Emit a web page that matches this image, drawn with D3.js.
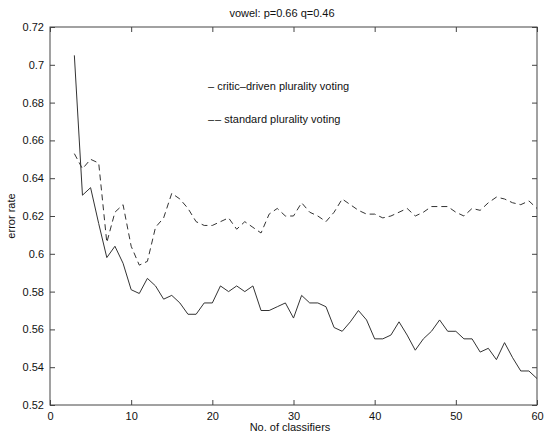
<!DOCTYPE html>
<html>
<head>
<meta charset="utf-8">
<script src="https://cdn.jsdelivr.net/npm/d3@7"></script>
<style>
  body { margin: 0; background: #fff; }
  text { font-family: "Liberation Sans", Arial, sans-serif; fill: #111; }
</style>
</head>
<body>
<script>
// classifier counts 3..60
var classifiers = [3,4,5,6,7,8,9,10,11,12,13,14,15,16,17,18,19,20,21,22,23,24,25,26,27,28,29,30,
  31,32,33,34,35,36,37,38,39,40,41,42,43,44,45,46,47,48,49,50,51,52,53,54,55,56,57,58,59,60];

var criticDriven = [0.705,0.631,0.635,0.616,0.598,0.604,0.595,0.581,0.579,0.587,0.583,0.576,0.578,0.574,
  0.568,0.568,0.574,0.574,0.583,0.580,0.583,0.580,0.583,0.570,0.570,0.572,0.574,0.566,0.578,0.574,
  0.574,0.572,0.561,0.559,0.564,0.570,0.565,0.555,0.555,0.557,0.564,0.557,0.549,0.555,0.559,0.565,
  0.559,0.559,0.555,0.555,0.548,0.550,0.544,0.553,0.545,0.538,0.538,0.534];

var standard = [0.653,0.645,0.650,0.648,0.606,0.622,0.626,0.604,0.594,0.596,0.614,0.619,0.632,0.629,
  0.624,0.617,0.615,0.615,0.617,0.619,0.613,0.617,0.614,0.611,0.621,0.624,0.620,0.620,0.627,0.622,
  0.620,0.617,0.622,0.629,0.626,0.623,0.621,0.621,0.619,0.620,0.622,0.624,0.620,0.622,0.625,0.625,
  0.625,0.622,0.620,0.624,0.623,0.627,0.630,0.629,0.627,0.626,0.628,0.624];

var xTicks = [0,10,20,30,40,50,60];
var yTicks = [0.52,0.54,0.56,0.58,0.6,0.62,0.64,0.66,0.68,0.7,0.72];

var width = 545, height = 434;
var plotLeft = 50, plotRight = 537, plotTop = 27, plotBottom = 405;

var svg = d3.select("body").append("svg")
    .attr("width", width)
    .attr("height", height);

var x = d3.scaleLinear().domain([0, 60]).range([plotLeft, plotRight]);
var y = d3.scaleLinear().domain([0.52, 0.72]).range([plotBottom, plotTop]);

// box
svg.append("rect")
    .attr("x", plotLeft).attr("y", plotTop)
    .attr("width", plotRight - plotLeft).attr("height", plotBottom - plotTop)
    .style("fill", "none")
    .style("stroke", "#444")
    .style("stroke-width", 1);

function styleAxis(g, labels) {
    g.select(".domain").remove();
    g.selectAll(".tick line").style("stroke", "#444");
    g.selectAll("text")
        .style("font-size", "11px")
        .style("font-family", "'Liberation Sans', Arial, sans-serif")
        .style("fill", "#111")
        .style("display", labels ? null : "none");
}

svg.append("g")
    .attr("transform", "translate(0," + plotBottom + ")")
    .call(d3.axisBottom(x).tickValues(xTicks).tickSize(-5).tickPadding(7).tickFormat(d3.format("d")))
    .call(styleAxis, true);

svg.append("g")
    .attr("transform", "translate(0," + plotTop + ")")
    .call(d3.axisTop(x).tickValues(xTicks).tickSize(-5))
    .call(styleAxis, false);

svg.append("g")
    .attr("transform", "translate(" + plotLeft + ",0)")
    .call(d3.axisLeft(y).tickValues(yTicks).tickSize(-5).tickPadding(6).tickFormat(function(d) { return +d.toFixed(2); }))
    .call(styleAxis, true);

svg.append("g")
    .attr("transform", "translate(" + plotRight + ",0)")
    .call(d3.axisRight(y).tickValues(yTicks).tickSize(-5))
    .call(styleAxis, false);

var line = d3.line()
    .x(function(d) { return x(d[0]); })
    .y(function(d) { return y(d[1]); });

svg.append("path")
    .datum(d3.zip(classifiers, criticDriven))
    .attr("d", line)
    .style("fill", "none")
    .style("stroke", "#333")
    .style("stroke-width", 1);

svg.append("path")
    .datum(d3.zip(classifiers, standard))
    .attr("d", line)
    .style("fill", "none")
    .style("stroke", "#333")
    .style("stroke-width", 1)
    .style("stroke-dasharray", "6,4");

// legend (plain text, as in the original)
svg.append("text")
    .attr("x", 208).attr("y", 90)
    .style("font-size", "11px")
    .text("\u2013 critic\u2013driven plurality voting");

svg.append("text")
    .attr("x", 208).attr("y", 123)
    .style("font-size", "11px")
    .text("\u2013\u200a\u2013 standard plurality voting");

svg.append("text")
    .attr("x", 282).attr("y", 17)
    .attr("text-anchor", "middle")
    .style("font-size", "11px")
    .text("vowel: p=0.66 q=0.46");

svg.append("text")
    .attr("x", 290).attr("y", 431)
    .attr("text-anchor", "middle")
    .style("font-size", "11px")
    .text("No. of classifiers");

svg.append("text")
    .attr("transform", "translate(15," + ((plotTop + plotBottom) / 2) + ") rotate(-90)")
    .attr("text-anchor", "middle")
    .style("font-size", "11px")
    .text("error rate");
</script>
</body>
</html>
